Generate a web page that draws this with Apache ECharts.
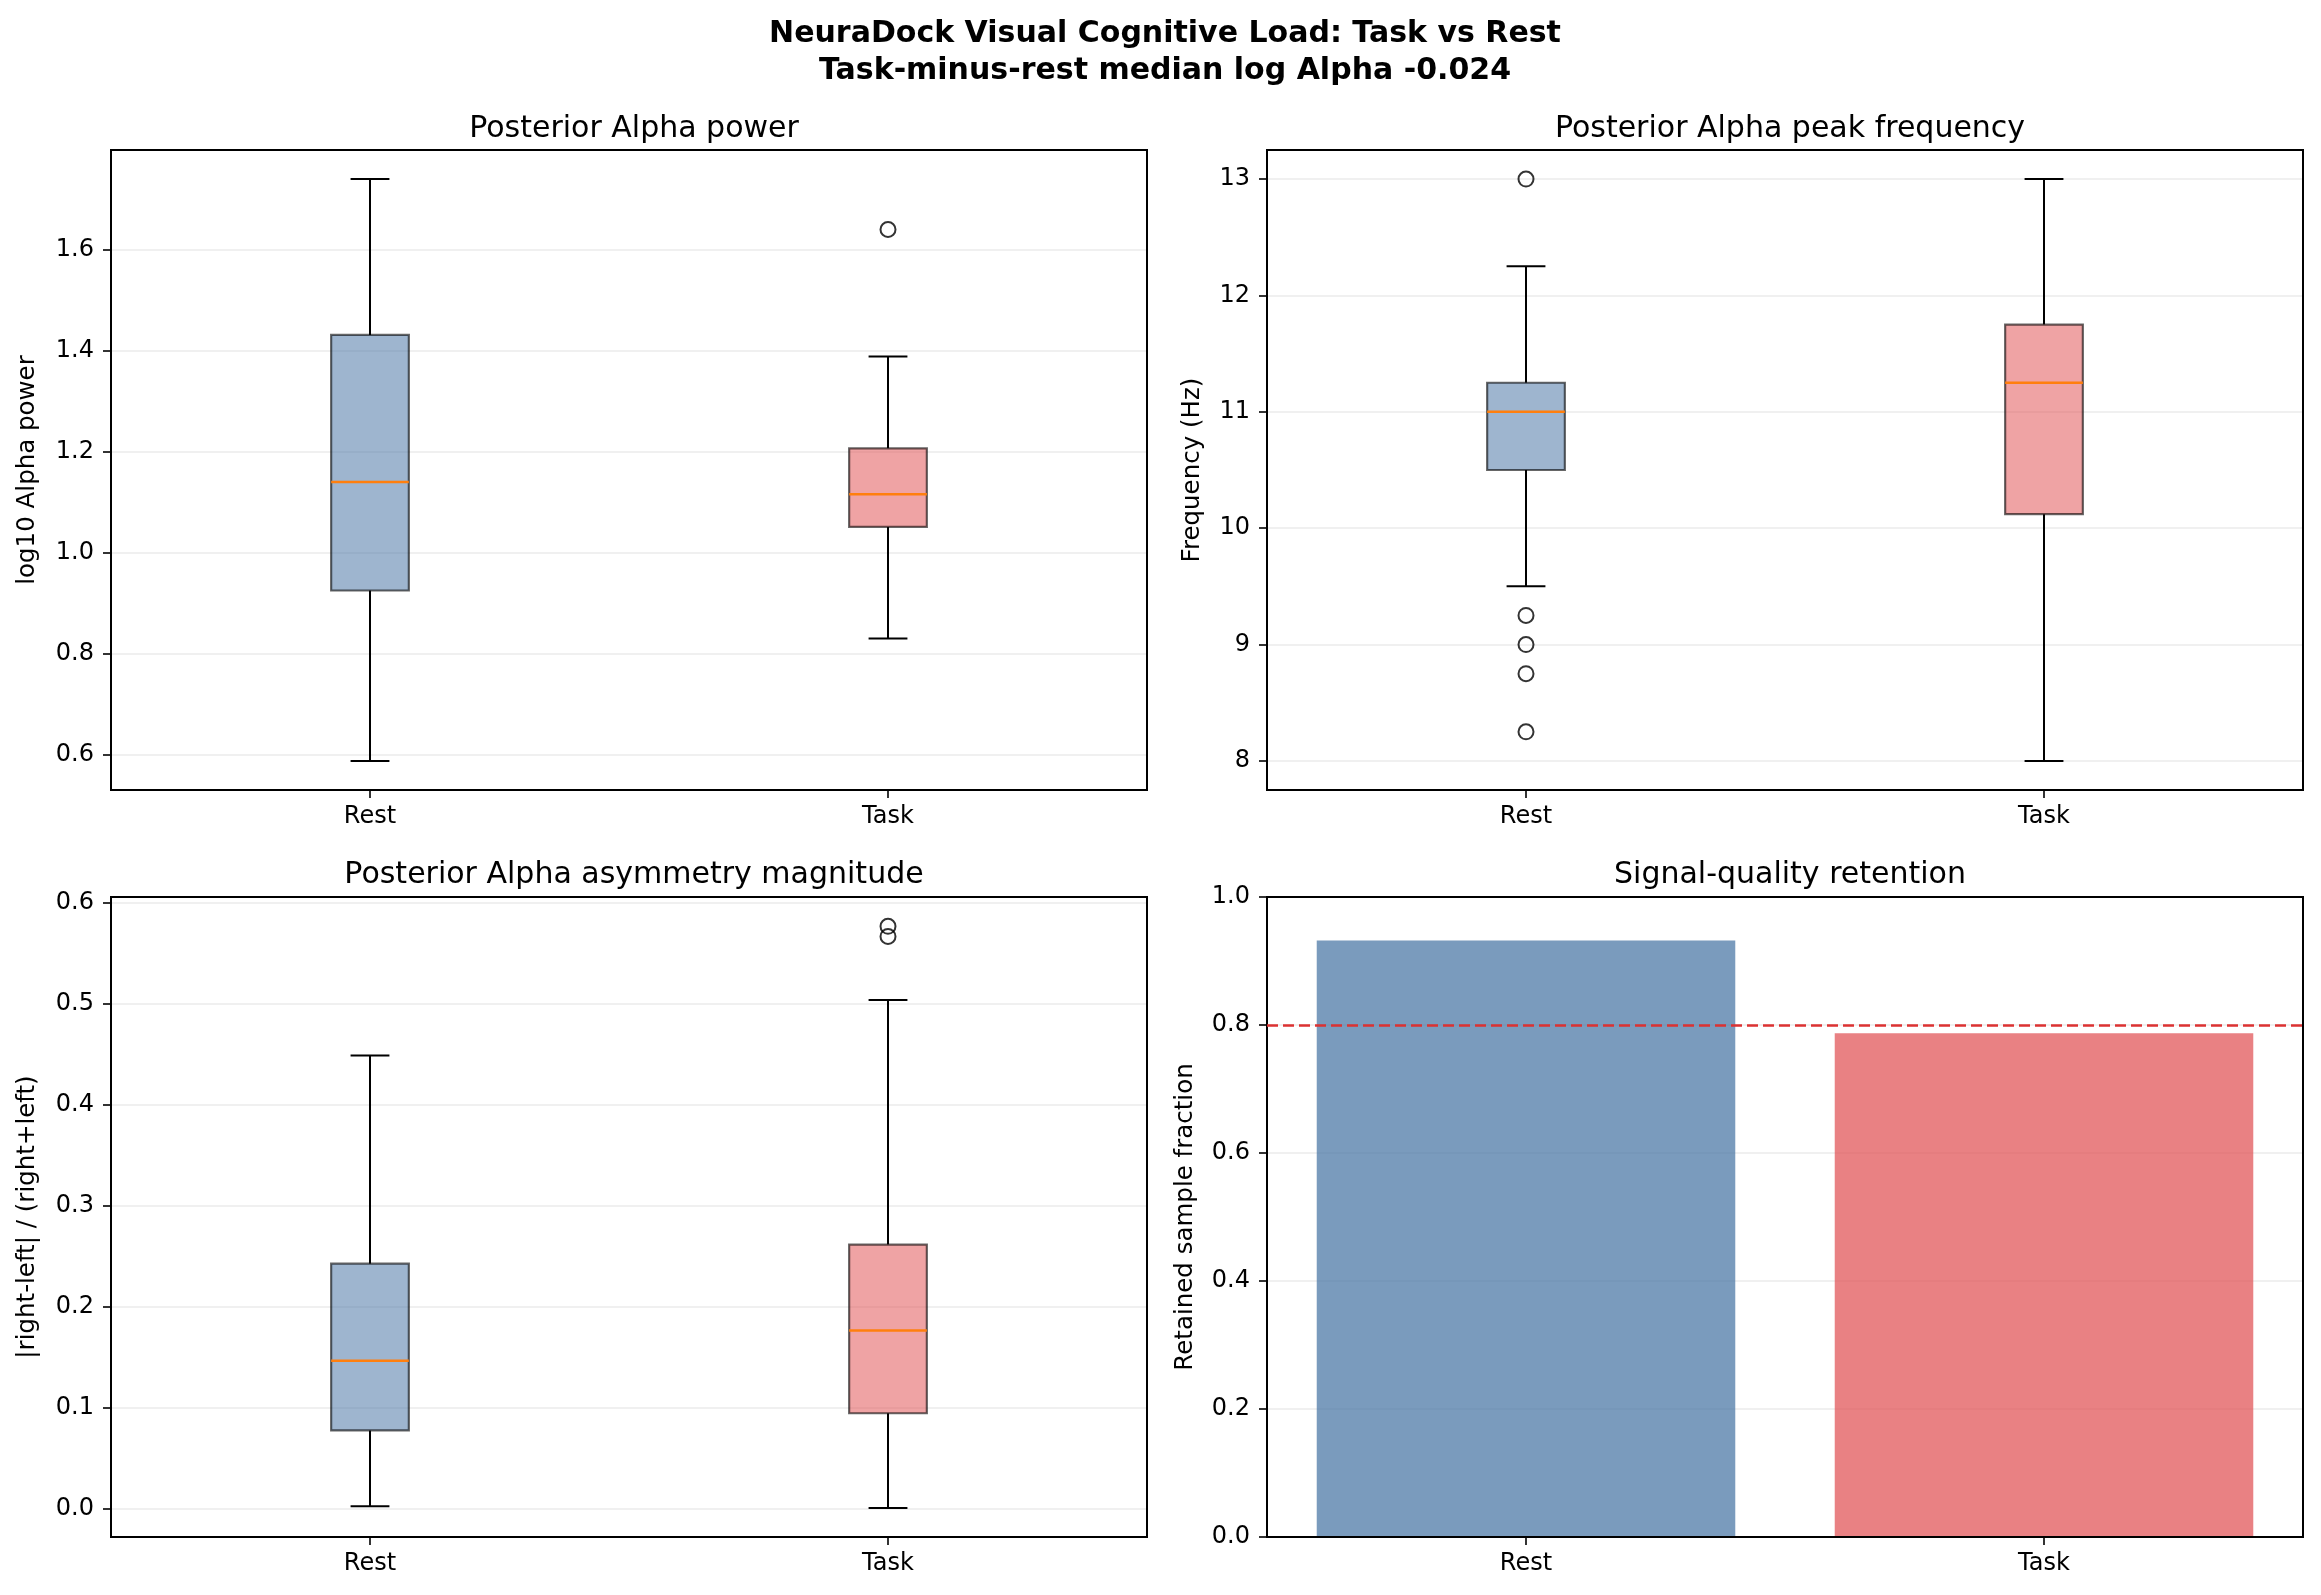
<!DOCTYPE html>
<html><head><meta charset="utf-8">
<script src="https://cdn.jsdelivr.net/npm/echarts@6/dist/echarts.min.js"></script>
<style>html,body{margin:0;padding:0;background:#fff}#c{width:2321px;height:1595px}</style>
</head><body><div id="c"></div>
<script>
// ---- data ----
const categories = ['Rest', 'Task'];
// each box: [low whisker, Q1, median, Q3, high whisker]
const powerBoxes = [[0.587, 0.925, 1.140, 1.432, 1.741], [0.830, 1.051, 1.116, 1.207, 1.389]];
const powerOutliers = [[1, 1.641]];
const freqBoxes = [[9.5, 10.5, 11.0, 11.25, 12.25], [8.0, 10.12, 11.25, 11.75, 13.0]];
const freqOutliers = [[0, 13.0], [0, 9.25], [0, 9.0], [0, 8.75], [0, 8.25]];
const asymBoxes = [[0.003, 0.078, 0.147, 0.243, 0.449], [0.0013, 0.095, 0.177, 0.262, 0.504]];
const asymOutliers = [[1, 0.577], [1, 0.567]];
const retention = [0.932, 0.787];
const retentionThreshold = 0.8;
const powerTicks = [0.6, 0.8, 1.0, 1.2, 1.4, 1.6];
const freqTicks = [8, 9, 10, 11, 12, 13];
const asymTicks = [0.0, 0.1, 0.2, 0.3, 0.4, 0.5, 0.6];
const retentionTicks = [0.0, 0.2, 0.4, 0.6, 0.8, 1.0];

// ---- style ----
const FONT = 'DejaVu Sans';
const boxFills = ['rgba(78,121,167,0.55)', 'rgba(225,87,89,0.55)'];
const barFills = ['rgba(78,121,167,0.75)', 'rgba(225,87,89,0.75)'];
const grids = [
  {left: 111, top: 150, width: 1036, height: 640},
  {left: 1267, top: 150, width: 1036, height: 640},
  {left: 111, top: 897, width: 1036, height: 640},
  {left: 1267, top: 897, width: 1036, height: 640}
];
const yLimits = [[0.5293, 1.7987], [7.75, 13.25], [-0.0275, 0.606], [0, 1]];

function renderBox(params, api) {
  const xi = api.value(0);
  const lo = api.coord([xi, api.value(1)]);
  const q1 = api.coord([xi, api.value(2)]);
  const md = api.coord([xi, api.value(3)]);
  const q3 = api.coord([xi, api.value(4)]);
  const hi = api.coord([xi, api.value(5)]);
  const band = api.size([1, 0])[0];
  const bw = band * 0.15, cw = bw / 2, cx = md[0];
  const black = {stroke: '#000', lineWidth: 2};
  return {type: 'group', children: [
    {type: 'line', shape: {x1: cx, y1: q1[1], x2: cx, y2: lo[1]}, style: black},
    {type: 'line', shape: {x1: cx, y1: q3[1], x2: cx, y2: hi[1]}, style: black},
    {type: 'line', shape: {x1: cx - cw / 2, y1: lo[1], x2: cx + cw / 2, y2: lo[1]}, style: black},
    {type: 'line', shape: {x1: cx - cw / 2, y1: hi[1], x2: cx + cw / 2, y2: hi[1]}, style: black},
    {type: 'rect', shape: {x: cx - bw / 2, y: q3[1], width: bw, height: q1[1] - q3[1]},
      style: {fill: boxFills[params.dataIndex], stroke: 'rgba(0,0,0,0.6)', lineWidth: 2.2}},
    {type: 'line', shape: {x1: cx - bw / 2, y1: md[1], x2: cx + bw / 2, y2: md[1]},
      style: {stroke: '#ff7f0e', lineWidth: 2.5}}
  ]};
}

function xAxisCfg(gi) {
  return {
    type: 'category', gridIndex: gi, data: categories, boundaryGap: true, z: 10,
    axisLine: {show: true, onZero: false, lineStyle: {color: '#000', width: 2}},
    axisTick: {show: true, alignWithLabel: true, length: 8, lineStyle: {color: '#000', width: 1.6}},
    axisLabel: {color: '#000', fontSize: 24, fontFamily: FONT, margin: 15},
    splitLine: {show: false}
  };
}
function yAxisCfg(gi, ticks, name, gap, fmt) {
  return {
    type: 'value', gridIndex: gi, min: yLimits[gi][0], max: yLimits[gi][1],
    name: name, nameLocation: 'middle', nameGap: gap,
    nameTextStyle: {color: '#000', fontSize: 24.5, fontFamily: FONT},
    axisLine: {show: true, onZero: false, lineStyle: {color: '#000', width: 2}},
    axisTick: {show: true, length: 8, lineStyle: {color: '#000', width: 1.6}, customValues: ticks},
    axisLabel: {color: '#000', fontSize: 24, fontFamily: FONT, margin: 17, customValues: ticks, formatter: fmt},
    splitLine: {show: true, lineStyle: {color: '#ebebeb', width: 1.5}}
  };
}
// frame-only axes (top and right spines), drawn above everything
function topFrame(gi) {
  return {type: 'category', gridIndex: gi, data: categories, position: 'top', z: 10,
    axisLine: {show: true, onZero: false, lineStyle: {color: '#000', width: 2}},
    axisTick: {show: false}, axisLabel: {show: false}, splitLine: {show: false}};
}
function rightFrame(gi) {
  return {type: 'value', gridIndex: gi, position: 'right', min: yLimits[gi][0], max: yLimits[gi][1], z: 10,
    axisLine: {show: true, onZero: false, lineStyle: {color: '#000', width: 2}},
    axisTick: {show: false}, axisLabel: {show: false}, splitLine: {show: false}};
}
const f1 = v => Number(v).toFixed(1);
const f0 = v => String(Math.round(v));

function boxData(boxes) { return boxes.map((b, i) => [i].concat(b)); }
function outlierSeries(gi, data) {
  return {type: 'scatter', xAxisIndex: gi, yAxisIndex: gi, data: data, symbol: 'circle', symbolSize: 15, z: 5,
    itemStyle: {color: 'rgba(0,0,0,0)', borderColor: '#000', borderWidth: 2}, silent: true};
}
function boxSeries(gi, boxes) {
  return {type: 'custom', xAxisIndex: gi, yAxisIndex: gi, data: boxData(boxes), renderItem: renderBox,
    encode: {x: 0, y: [1, 2, 3, 4, 5]}, z: 3, silent: true};
}

const titleStyle = {color: '#000', fontSize: 30, fontWeight: 'normal', fontFamily: FONT};
const option = {
  animation: false,
  backgroundColor: '#fff',
  title: [
    {text: 'NeuraDock Visual Cognitive Load: Task vs Rest\nTask-minus-rest median log Alpha -0.024',
      left: 1160, top: 11, textAlign: 'center',
      textStyle: {color: '#000', fontSize: 30, fontWeight: 'bold', fontFamily: FONT, lineHeight: 37}},
    {text: 'Posterior Alpha power', left: 629, top: 109, textAlign: 'center', textStyle: titleStyle},
    {text: 'Posterior Alpha peak frequency', left: 1785, top: 109, textAlign: 'center', textStyle: titleStyle},
    {text: 'Posterior Alpha asymmetry magnitude', left: 629, top: 855, textAlign: 'center', textStyle: titleStyle},
    {text: 'Signal-quality retention', left: 1785, top: 855, textAlign: 'center', textStyle: titleStyle}
  ],
  grid: grids.map(g => Object.assign({show: true, borderColor: '#000', borderWidth: 2, backgroundColor: 'transparent', containLabel: false}, g)),
  xAxis: [xAxisCfg(0), xAxisCfg(1), xAxisCfg(2), xAxisCfg(3), topFrame(0), topFrame(1), topFrame(2), topFrame(3)],
  yAxis: [
    yAxisCfg(0, powerTicks, 'log10 Alpha power', 71, f1),
    yAxisCfg(1, freqTicks, 'Frequency (Hz)', 62, f0),
    yAxisCfg(2, asymTicks, '|right-left| / (right+left)', 71, f1),
    yAxisCfg(3, retentionTicks, 'Retained sample fraction', 69, f1),
    rightFrame(0), rightFrame(1), rightFrame(2), rightFrame(3)
  ],
  series: [
    boxSeries(0, powerBoxes), outlierSeries(0, powerOutliers),
    boxSeries(1, freqBoxes), outlierSeries(1, freqOutliers),
    boxSeries(2, asymBoxes), outlierSeries(2, asymOutliers),
    {type: 'bar', xAxisIndex: 3, yAxisIndex: 3, barWidth: '80.8%', silent: true, z: 2,
      data: retention.map((v, i) => ({value: v, itemStyle: {color: barFills[i]}})),
      markLine: {symbol: 'none', silent: true, label: {show: false}, z: 6,
        emphasis: {disabled: true},
        lineStyle: {color: '#dc3232', opacity: 1, type: [11, 5], width: 2.5},
        data: [{yAxis: retentionThreshold}]}}
  ]
};
const chart = echarts.init(document.getElementById('c'), null, {renderer: 'canvas'});
chart.setOption(option);
</script></body></html>
